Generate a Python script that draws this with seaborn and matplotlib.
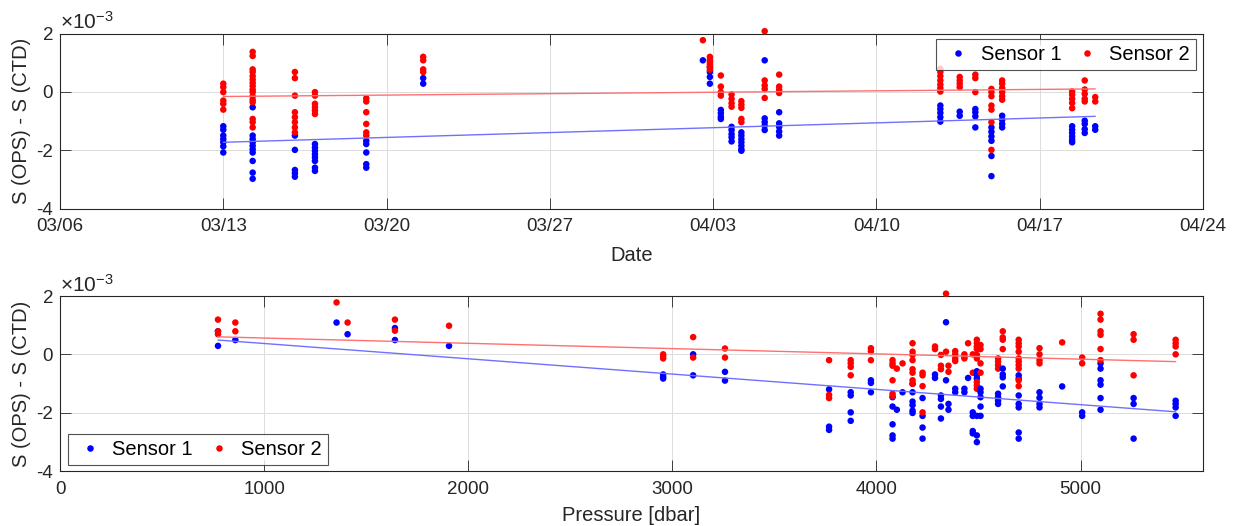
import numpy as np
import pandas as pd
import matplotlib
matplotlib.use("Agg")
import matplotlib.pyplot as plt
import seaborn as sns

# ---------------- data (values in units of 1e-3) ----------------
start_date = "2021-03-06"
# top panel: days after 03/06 for each profile cluster
top_days = [7.0, 8.26, 10.07, 10.93, 13.13, 15.57, 27.56, 27.86, 28.33, 28.79,
            29.21, 30.21, 30.83, 37.74, 38.57, 39.24, 39.93, 40.39, 43.39, 43.93, 44.38]
top_s1 = [
    [-1.18, -1.3, -1.5, -1.62, -1.73, -1.87, -2.08],
    [-0.53, -1.5, -1.62, -1.73, -1.85, -1.97, -2.08, -2.37, -2.77, -2.98],
    [-1.5, -1.99, -2.68, -2.79, -2.91],
    [-1.79, -1.91, -2.02, -2.14, -2.25, -2.37, -2.6, -2.71],
    [-1.68, -1.79, -2.08, -2.48, -2.6],
    [0.47, 0.28],
    [1.08],
    [0.85, 0.68, 0.51, 0.28],
    [-0.62, -0.73, -0.85, -0.93],
    [-1.2, -1.31, -1.45, -1.56, -1.7],
    [-1.39, -1.5, -1.62, -1.73, -1.85, -1.97, -2.02],
    [1.08, -0.91, -1.04, -1.16, -1.31],
    [-0.7, -1.08, -1.2, -1.36, -1.5],
    [-0.47, -0.59, -0.72, -0.87, -1.02],
    [-0.68, -0.82],
    [-0.59, -0.7, -0.84, -1.22],
    [-1.22, -1.37, -1.53, -1.68, -2.2, -2.89],
    [-0.82, -0.96, -1.1, -1.22],
    [-1.18, -1.3, -1.41, -1.53, -1.64, -1.73],
    [-0.99, -1.1, -1.28, -1.41],
    [-1.18, -1.3],
]
top_s2 = [
    [0.28, 0.16, -0.01, -0.3, -0.41, -0.61],
    [1.37, 1.23, 0.77, 0.68, 0.54, 0.42, 0.31, 0.2, 0.08, -0.01, -0.15, -0.27, -0.36, -0.93, -1.04, -1.22],
    [0.68, 0.47, -0.13, -0.7, -0.87, -1.04, -1.22, -1.39],
    [-0.01, -0.13, -0.41, -0.53, -0.64, -0.76],
    [-0.22, -0.33, -0.7, -1.1, -1.39, -1.5],
    [1.2, 1.08, 0.77, 0.68],
    [1.77],
    [1.2, 1.1, 1.02, 0.94, 0.85, 0.76],
    [0.56, 0.18, -0.01, -0.13],
    [-0.09, -0.24, -0.39, -0.51],
    [-0.32, -0.44, -0.55, -0.93, -1.04],
    [2.08, 0.39, 0.22, 0.1, -0.21],
    [0.59, 0.18, 0.07, -0.04],
    [0.79, 0.68, 0.54, 0.39, 0.25, 0.13, 0.01],
    [0.51, 0.39, 0.28, 0.16],
    [0.59, 0.47, -0.01],
    [0.1, -0.01, -0.15, -0.47, -0.61, -1.04, -1.99],
    [0.39, 0.28, 0.13, -0.01, -0.15, -0.27],
    [0.01, -0.1, -0.24, -0.38, -0.56],
    [0.39, 0.08, -0.07, -0.24, -0.33],
    [-0.18, -0.33],
]
top_fit_days = [7.0, 44.38]
top_fit_s1 = [-1.73, -0.84]
top_fit_s2 = [-0.16, 0.10]

# bottom panel: pressure (dbar)
bot_p = [774, 859, 1355, 1409, 1641, 1906, 2955, 3102, 3258, 3768, 3874, 3973,
         4079, 4100, 4128, 4177, 4226, 4287, 4316, 4341, 4353, 4386, 4431, 4449,
         4472, 4492, 4510, 4596, 4619, 4697, 4799, 4910, 5008, 5098, 5260, 5466]
bot_s1 = [
    [0.79, 0.29], [0.49], [1.09], [0.69], [0.9, 0.49], [0.29],
    [-0.69, -0.77, -0.83], [0.0, -0.72], [-0.6, -0.9],
    [-1.2, -2.48, -2.59], [-1.3, -1.41, -1.99, -2.28], [-0.89, -0.98, -1.3],
    [-1.47, -1.79, -2.4, -2.78, -2.89], [-1.9], [-1.3],
    [-1.01, -1.3, -1.62, -1.74, -1.93, -2.01], [-1.5, -2.11, -2.51, -2.89],
    [-0.69, -0.81], [-1.41, -1.53, -1.79, -2.2], [1.1, -0.89], [-1.7, -1.9],
    [-1.18, -1.3], [-1.18, -1.3], [-0.81], [-1.99, -2.11, -2.63, -2.71],
    [-0.58, -0.72, -0.83, -2.11, -2.78, -3.01], [-1.18, -1.3, -1.47, -1.79, -2.11],
    [-1.35, -1.47, -1.59, -1.7], [-0.49, -0.69, -0.79, -1.1],
    [-0.72, -0.83, -1.41, -1.7, -1.82, -2.68, -2.89], [-1.3, -1.49, -1.7, -1.82],
    [-1.1], [-1.99, -2.11], [-0.31, -0.49, -0.89, -1.04, -1.5, -1.9],
    [-1.5, -1.7, -2.89], [-1.59, -1.7, -1.82, -2.11],
]
bot_s2 = [
    [1.19, 0.79, 0.69], [1.09, 0.79], [1.78], [1.09], [1.19, 0.81], [0.98],
    [0.0, -0.06, -0.14], [0.59, -0.11], [0.2, -0.11],
    [-0.2, -1.39, -1.5], [-0.2, -0.31, -0.43, -0.72], [0.21, 0.11, -0.2],
    [-0.2, -0.31, -0.39, -0.89, -1.35, -1.43], [-0.49], [-0.31],
    [0.38, 0.09, -0.02, -0.2, -0.51, -0.63, -0.89, -1.01], [-0.63, -0.72, -1.09, -1.99],
    [0.27, 0.18], [-0.02, -0.39, -0.51], [2.08, 0.09], [-0.39, -0.6],
    [0.11, 0.0, -0.14, -0.23], [0.0, -0.08, -0.14], [0.38], [0.0, -0.63],
    [0.5, 0.38, 0.27, 0.18, -0.02, -0.14, -0.95, -1.07, -1.18], [0.32, 0.18, -0.31, -0.63],
    [-0.14, -0.25, -0.37, -0.49], [0.79, 0.58, 0.5, 0.18],
    [0.5, 0.38, 0.27, 0.09, -0.14, -0.25, -0.37, -0.49, -0.89, -1.09], [0.21, 0.0, -0.2, -0.31],
    [0.41], [-0.11, -0.31], [1.39, 1.19, 0.79, 0.67, 0.18, -0.2],
    [0.69, 0.5, -0.72], [0.5, 0.38, 0.27, 0.0],
]
bot_fit_p = [774, 5466]
bot_fit_s1 = [0.49, -1.97]
bot_fit_s2 = [0.60, -0.25]

sensors = ["Sensor 1", "Sensor 2"]
top_tick_labels = ["03/06", "03/13", "03/20", "03/27", "04/03", "04/10", "04/17", "04/24"]
bot_ticks = [0, 1000, 2000, 3000, 4000, 5000]
y_ticks = [-4, -2, 0, 2]

# ---------------- build tables ----------------
def long_table(xs, s1, s2, xname):
    rows = []
    for x, a, b in zip(xs, s1, s2):
        for v in a:
            rows.append((x, v, sensors[0]))
        for v in b:
            rows.append((x, v, sensors[1]))
    return pd.DataFrame(rows, columns=[xname, "val", "sensor"])

base = pd.Timestamp(start_date)
top_df = long_table(top_days, top_s1, top_s2, "day")
top_df["date"] = base + pd.to_timedelta(top_df["day"], unit="D")
bot_df = long_table(bot_p, bot_s1, bot_s2, "p")

top_fit = pd.DataFrame({
    "date": list(base + pd.to_timedelta(top_fit_days, unit="D")) * 2,
    "val": top_fit_s1 + top_fit_s2,
    "sensor": [sensors[0]] * 2 + [sensors[1]] * 2,
})
bot_fit = pd.DataFrame({
    "p": bot_fit_p * 2,
    "val": bot_fit_s1 + bot_fit_s2,
    "sensor": [sensors[0]] * 2 + [sensors[1]] * 2,
})

# ---------------- style ----------------
sns.set_theme(style="white")
plt.rcParams["font.family"] = ["Liberation Sans", "DejaVu Sans"]
plt.rcParams["axes.unicode_minus"] = False
plt.rcParams["mathtext.fontset"] = "custom"
plt.rcParams["mathtext.rm"] = "Liberation Sans"
plt.rcParams["mathtext.it"] = "Liberation Sans:italic"

dark = "#262626"
pal = {"Sensor 1": "#0000ff", "Sensor 2": "#ff0000"}
line_pal = {"Sensor 1": "#7070ff", "Sensor 2": "#ff7070"}
TICK_FS = 13.5
LABEL_FS = 14.5
LEG_FS = 14.5

fig = plt.figure(figsize=(12.39, 5.26), dpi=100)
ax1 = fig.add_axes([60 / 1239, 1 - 208.5 / 526, 1143 / 1239, 175 / 526])
ax2 = fig.add_axes([60 / 1239, 1 - 471 / 526, 1143 / 1239, 175 / 526])

def style_axes(ax):
    for s in ax.spines.values():
        s.set_visible(True)
        s.set_color(dark)
        s.set_linewidth(0.8)
    ax.tick_params(direction="in", length=8, width=0.6, colors=dark,
                   labelsize=TICK_FS, top=True, right=True, bottom=True, left=True,
                   labelcolor=dark)
    ax.tick_params(axis="x", pad=7)
    ax.tick_params(axis="y", pad=5)
    ax.grid(True, color="#dcdcdc", linewidth=0.7)
    ax.set_axisbelow(True)
    ax.set_ylim(-4, 2)
    ax.set_yticks(y_ticks)
    ax.text(0.0, 1.004, r"$\times$10$^{-3}$", transform=ax.transAxes,
            ha="left", va="bottom", fontsize=15, color=dark)
    for c in ax.collections:
        c.set_clip_on(False)

def style_legend(ax, **kw):
    h, l = ax.get_legend_handles_labels()
    leg = ax.legend(h, l, ncol=2, fontsize=LEG_FS, frameon=True, fancybox=False,
                    borderaxespad=0, handletextpad=0.3, columnspacing=0.5,
                    handlelength=1.6, borderpad=0.3, **kw)
    leg.get_frame().set_edgecolor(dark)
    leg.get_frame().set_linewidth(0.8)
    for t in leg.get_texts():
        t.set_color("black")
    return leg

# top panel
sns.scatterplot(data=top_df, x="date", y="val", hue="sensor", palette=pal,
                hue_order=sensors, s=22, linewidth=0, ax=ax1, zorder=3)
sns.lineplot(data=top_fit, x="date", y="val", hue="sensor", palette=line_pal,
             hue_order=sensors, linewidth=1.0, ax=ax1, legend=False, zorder=4)
style_axes(ax1)
tick_dates = base + pd.to_timedelta(np.arange(len(top_tick_labels)) * 7, unit="D")
ax1.set_xticks(tick_dates)
ax1.set_xticklabels(top_tick_labels)
ax1.set_xlim(tick_dates[0], tick_dates[-1])
ax1.set_xlabel("Date", fontsize=LABEL_FS, color=dark, labelpad=8)
ax1.set_ylabel("S (OPS) - S (CTD)", fontsize=LABEL_FS, color=dark, labelpad=4)
style_legend(ax1, loc="upper right", bbox_to_anchor=(0.994, 0.967))

# bottom panel
sns.scatterplot(data=bot_df, x="p", y="val", hue="sensor", palette=pal,
                hue_order=sensors, s=22, linewidth=0, ax=ax2, zorder=3)
sns.lineplot(data=bot_fit, x="p", y="val", hue="sensor", palette=line_pal,
             hue_order=sensors, linewidth=1.0, ax=ax2, legend=False, zorder=4)
style_axes(ax2)
ax2.set_xlim(0, 5600)
ax2.set_xticks(bot_ticks)
ax2.set_xticklabels([str(t) for t in bot_ticks])
ax2.set_xlabel("Pressure [dbar]", fontsize=LABEL_FS, color=dark, labelpad=6)
ax2.set_ylabel("S (OPS) - S (CTD)", fontsize=LABEL_FS, color=dark, labelpad=4)
style_legend(ax2, loc="lower left", bbox_to_anchor=(0.007, 0.034))

fig.savefig("out.png", dpi=100)
